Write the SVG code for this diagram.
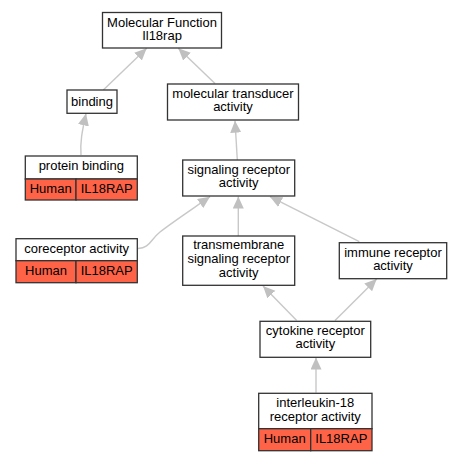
<svg xmlns="http://www.w3.org/2000/svg" width="463" height="461" viewBox="0 0 463 461">
<defs>
<marker id="ah" markerUnits="userSpaceOnUse" markerWidth="14" markerHeight="12" refX="12" refY="5.5" orient="auto">
<path d="M0,0 L12,5.5 L0,11 Z" fill="#c0c0c0"/>
</marker>
</defs>
<style>
.box{fill:#fff;stroke:#333;stroke-width:1.3}
.red{fill:#ff6347;stroke:#333;stroke-width:1.3}
text{font-family:"Liberation Sans",Arial,sans-serif;font-size:13px;fill:#000;text-anchor:middle}
.e{fill:none;stroke:#c8c8c8;stroke-width:1.4;marker-end:url(#ah)}
</style>
<rect width="463" height="461" fill="#fff"/>
<g id="edges">
<path class="e" d="M103.3,90 L146.7,48.3"/>
<path class="e" d="M215,83.5 L178.3,48.3"/>
<path class="e" d="M81,155 C80,142 82,132 86,113.5"/>
<path class="e" d="M237.3,160 L235,120.7"/>
<path class="e" d="M138,248.5 C150,248 150,240 160,232 C170,224 185,214 210,196.7"/>
<path class="e" d="M238.3,236 L238.3,196.5"/>
<path class="e" d="M359.3,241.7 L270,196.7"/>
<path class="e" d="M296.7,320.5 L263,286"/>
<path class="e" d="M335,320.5 L376.7,279"/>
<path class="e" d="M316,392.7 L316,357.5"/>
</g>
<g id="mf">
<rect class="box" x="102.5" y="12.5" width="119" height="35.5"/>
<text x="162" y="26.5">Molecular Function</text>
<text x="162" y="39.5">Il18rap</text>
</g>
<g id="binding">
<rect class="box" x="67" y="90" width="50" height="23.3"/>
<text x="92" y="105.5">binding</text>
</g>
<g id="transducer">
<rect class="box" x="167.5" y="84" width="131" height="36"/>
<text x="233" y="98.3">molecular transducer</text>
<text x="233" y="111.3">activity</text>
</g>
<g id="protein_binding">
<rect class="box" x="25.3" y="156" width="112" height="23"/>
<rect class="red" x="25.3" y="179" width="50.7" height="21"/>
<rect class="red" x="76" y="179" width="61.3" height="21"/>
<text x="81.3" y="170">protein binding</text>
<text x="50.7" y="193">Human</text>
<text x="106.7" y="193">IL18RAP</text>
</g>
<g id="signaling">
<rect class="box" x="182.7" y="160" width="112" height="36"/>
<text x="238.7" y="174.3">signaling receptor</text>
<text x="238.7" y="187">activity</text>
</g>
<g id="coreceptor">
<rect class="box" x="16" y="238.7" width="121.3" height="22"/>
<rect class="red" x="16" y="260.7" width="60" height="22"/>
<rect class="red" x="76" y="260.7" width="61.3" height="22"/>
<text x="76.7" y="252.7">coreceptor activity</text>
<text x="46" y="275">Human</text>
<text x="106.7" y="275">IL18RAP</text>
</g>
<g id="transmembrane">
<rect class="box" x="182.7" y="236" width="112" height="49.3"/>
<text x="238.7" y="249.3">transmembrane</text>
<text x="238.7" y="262.7">signaling receptor</text>
<text x="238.7" y="276.7">activity</text>
</g>
<g id="immune">
<rect class="box" x="339.3" y="242.7" width="107.4" height="36"/>
<text x="393" y="256.7">immune receptor</text>
<text x="393" y="270">activity</text>
</g>
<g id="cytokine">
<rect class="box" x="260" y="321.3" width="110.7" height="36"/>
<text x="315.3" y="335">cytokine receptor</text>
<text x="315.3" y="348.3">activity</text>
</g>
<g id="il18">
<rect class="box" x="258.7" y="393.3" width="113.3" height="35.4"/>
<rect class="red" x="258.7" y="428.7" width="52" height="22"/>
<rect class="red" x="310.7" y="428.7" width="61.3" height="22"/>
<text x="315.3" y="406.7">interleukin-18</text>
<text x="315.3" y="420.7">receptor activity</text>
<text x="284.7" y="443">Human</text>
<text x="341.3" y="443">IL18RAP</text>
</g>
</svg>
